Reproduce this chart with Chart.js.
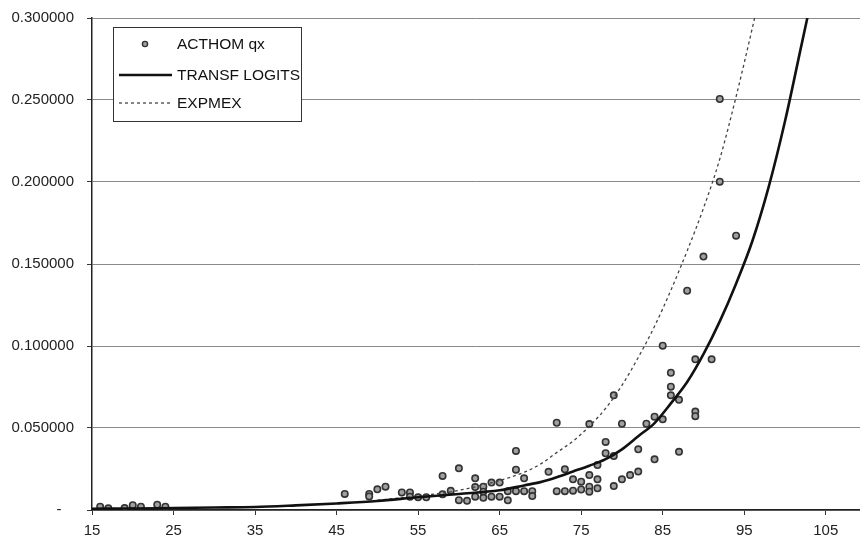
<!DOCTYPE html>
<html>
<head>
<meta charset="utf-8">
<script src="https://cdn.jsdelivr.net/npm/chart.js@4/dist/chart.umd.min.js"></script>
<style>
html,body{margin:0;padding:0;background:#fff;}
#wrap{width:860px;height:539px;}
</style>
</head>
<body>
<div id="wrap"><canvas id="c" width="860" height="539"></canvas></div>
<script>
// ---- Data ----
const seriesLabels = ['ACTHOM qx', 'TRANSF LOGITS', 'EXPMEX'];

const obsAge = [16,17,19,20,21,23,24,
  46,49,49,50,51,53,54,54,55,56,58,58,59,60,60,61,
  62,62,62,63,63,63,64,64,65,65,66,66,67,67,67,68,68,69,69,
  71,72,72,73,73,74,74,75,75,76,76,76,76,77,77,77,78,78,
  79,79,79,80,80,81,82,82,83,84,84,85,85,86,86,86,87,87,
  88,89,89,89,90,91,92,92,94];
const obsQx = [0.0020,0.0010,0.0012,0.0029,0.0020,0.0032,0.0020,
  0.0098,0.0098,0.0083,0.0126,0.0142,0.0107,0.0107,0.0081,0.0077,0.0077,0.0208,0.0096,0.0117,0.0254,0.0060,0.0056,
  0.0193,0.0140,0.0081,0.0142,0.0112,0.0074,0.0167,0.0081,0.0167,0.0081,0.0115,0.0059,0.0360,0.0246,0.0115,0.0193,0.0115,0.0115,0.0085,
  0.0233,0.0532,0.0115,0.0248,0.0115,0.0187,0.0118,0.0173,0.0125,0.0524,0.0213,0.0142,0.0112,0.0274,0.0187,0.0132,0.0415,0.0346,
  0.0699,0.0329,0.0146,0.0526,0.0187,0.0213,0.0370,0.0234,0.0526,0.0569,0.0309,0.1002,0.0553,0.0837,0.0752,0.0699,0.0672,0.0355,
  0.1337,0.0919,0.0600,0.0572,0.1545,0.0919,0.2506,0.2002,0.1673];

const logitAge = [15,20,25,30,35,40,45,50,55,60,65,68,70,72,74,76,78,80,82,84,86,88,90,92,94,96,98,100,102,103];
const logitQx  = [0.0008,0.0009,0.0012,0.0015,0.0018,0.0028,0.0040,0.0055,0.0078,0.0098,0.0120,0.0150,0.0170,0.0200,0.0235,0.0270,0.0310,0.0370,0.0450,0.0530,0.0650,0.0780,0.0950,0.1150,0.1380,0.1640,0.1970,0.2370,0.2830,0.3060];

const expmexAge = [50,55,60,65,68,70,72,74,76,78,80,82,84,86,88,90,92,94,96,96.5];
const expmexQx  = [0.0060,0.0085,0.0120,0.0180,0.0230,0.0280,0.0350,0.0420,0.0510,0.0620,0.0760,0.0930,0.1120,0.1340,0.1580,0.1840,0.2140,0.2520,0.2940,0.3050];

const xTickValues = [15,25,35,45,55,65,75,85,95,105];
const yTickValues = [0,0.05,0.10,0.15,0.20,0.25,0.30];

// ---- Build chart ----
const FONT = "'Liberation Sans', Arial, sans-serif";
const toPts = (xs, ys) => xs.map((x, i) => ({x: x, y: ys[i]}));

const bgPlugin = {
  id: 'bg',
  beforeDraw(chart) {
    const ctx = chart.ctx;
    ctx.save();
    ctx.fillStyle = '#ffffff';
    ctx.fillRect(0, 0, chart.width, chart.height);
    ctx.restore();
  }
};

const legendBox = {
  id: 'legendBox',
  afterDraw(chart) {
    const ctx = chart.ctx;
    const ds = chart.data.datasets;
    const bx = 113, by = 27, bw = 188, bh = 94;
    ctx.save();
    ctx.fillStyle = '#ffffff';
    ctx.fillRect(bx, by, bw, bh);
    ctx.strokeStyle = '#333';
    ctx.lineWidth = 1;
    ctx.strokeRect(bx + 0.5, by + 0.5, bw, bh);
    const rows = [44, 75, 103];
    // row 1: marker
    ctx.fillStyle = ds[0].backgroundColor; ctx.strokeStyle = ds[0].borderColor;
    ctx.lineWidth = 1.4;
    ctx.beginPath(); ctx.arc(145, rows[0], 2.6, 0, Math.PI * 2); ctx.fill(); ctx.stroke();
    // row 2: solid line
    ctx.strokeStyle = ds[1].borderColor; ctx.lineWidth = ds[1].borderWidth;
    ctx.setLineDash([]);
    ctx.beginPath(); ctx.moveTo(119, rows[1]); ctx.lineTo(172, rows[1]); ctx.stroke();
    // row 3: dotted line
    ctx.strokeStyle = ds[2].borderColor; ctx.lineWidth = ds[2].borderWidth;
    ctx.setLineDash(ds[2].borderDash);
    ctx.beginPath(); ctx.moveTo(119, rows[2]); ctx.lineTo(172, rows[2]); ctx.stroke();
    ctx.setLineDash([]);
    ctx.fillStyle = '#111';
    ctx.font = '15.5px ' + FONT;
    ctx.textBaseline = 'middle';
    ctx.textAlign = 'left';
    for (let i = 0; i < 3; i++) ctx.fillText(ds[i].label, 177, rows[i] + 1);
    ctx.restore();
  }
};

new Chart(document.getElementById('c'), {
  type: 'scatter',
  data: {
    datasets: [
      {
        label: seriesLabels[0],
        data: toPts(obsAge, obsQx),
        showLine: false,
        pointStyle: 'circle',
        pointRadius: 3.2,
        pointBorderWidth: 1.6,
        borderColor: '#333333',
        backgroundColor: '#a0a0a0',
        order: 3
      },
      {
        label: seriesLabels[1],
        data: toPts(logitAge, logitQx),
        showLine: true,
        pointRadius: 0,
        borderColor: '#111111',
        backgroundColor: '#111111',
        borderWidth: 2.6,
        cubicInterpolationMode: 'monotone',
        order: 1
      },
      {
        label: seriesLabels[2],
        data: toPts(expmexAge, expmexQx),
        showLine: true,
        pointRadius: 0,
        borderColor: '#444444',
        backgroundColor: '#444444',
        borderWidth: 1.3,
        borderDash: [3, 3],
        cubicInterpolationMode: 'monotone',
        order: 2
      }
    ]
  },
  options: {
    responsive: false,
    animation: false,
    devicePixelRatio: 1,
    layout: { autoPadding: false, padding: { top: 18, right: 0, left: 0, bottom: 0 } },
    plugins: {
      legend: { display: false },
      tooltip: { enabled: false }
    },
    scales: {
      x: {
        type: 'linear',
        min: 15,
        max: 109.2,
        afterBuildTicks(scale) { scale.ticks = xTickValues.map(v => ({ value: v })); },
        afterFit(scale) { scale.height = 29; scale.paddingLeft = 0; scale.paddingRight = 0; },
        grid: { drawOnChartArea: false, drawTicks: true, tickLength: 5, tickColor: '#333' },
        border: { display: true, color: '#222', width: 1.5 },
        ticks: {
          color: '#222',
          padding: 7,
          maxRotation: 0,
          autoSkip: false,
          font: { family: FONT, size: 15 }
        }
      },
      y: {
        type: 'linear',
        min: 0,
        max: 0.3,
        afterBuildTicks(scale) { scale.ticks = yTickValues.map(v => ({ value: v })); },
        afterFit(scale) { scale.width = 92; scale.paddingTop = 0; scale.paddingBottom = 0; },
        grid: { color: '#8a8a8a', lineWidth: 1, tickLength: 5, tickColor: '#333' },
        border: { display: true, color: '#222', width: 1.5 },
        ticks: {
          color: '#222',
          padding: 13,
          font: { family: FONT, size: 15 },
          callback: (v) => (Math.abs(v) < 1e-9 ? '-   ' : Number(v).toFixed(6))
        }
      }
    }
  },
  plugins: [bgPlugin, legendBox]
});
</script>
</body>
</html>
